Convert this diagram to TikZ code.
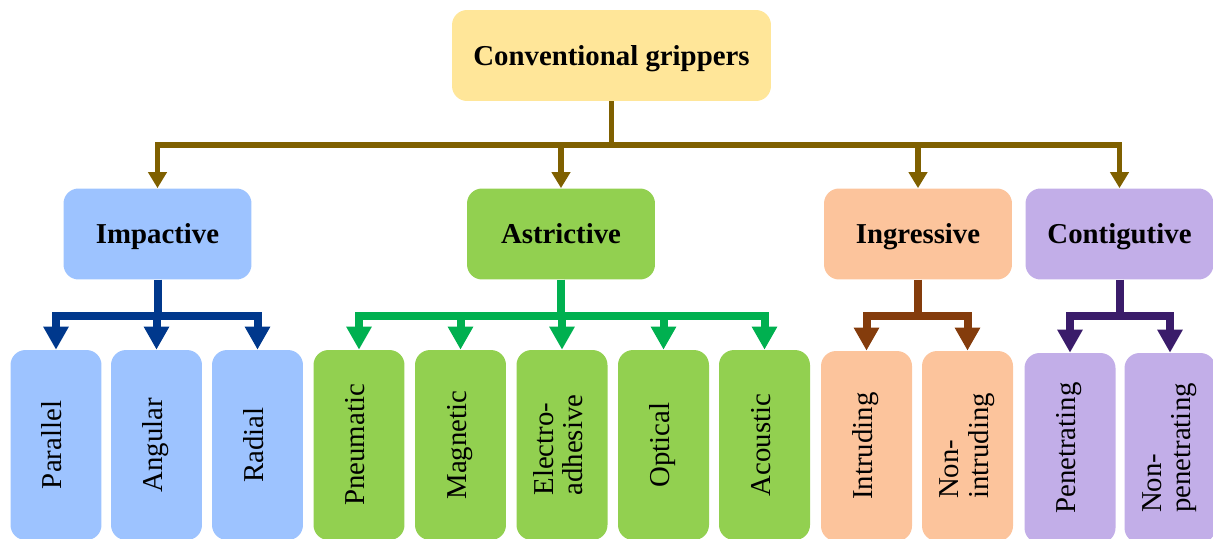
\documentclass[tikz,border=0pt]{standalone}
\usepackage{fontspec}
\setmainfont{Liberation Serif}
\usetikzlibrary{arrows.meta}
\definecolor{rootfill}{HTML}{FFE699}
\definecolor{impfill}{RGB}{157,195,255}
\definecolor{astfill}{HTML}{92D050}
\definecolor{ingfill}{RGB}{252,196,156}
\definecolor{contfill}{RGB}{194,174,232}
\definecolor{rootline}{HTML}{7F6000}
\definecolor{impline}{RGB}{0,56,140}
\definecolor{astline}{HTML}{00B050}
\definecolor{ingline}{HTML}{843C0C}
\definecolor{contline}{RGB}{58,28,106}
\newcommand{\vlabel}[1]{\rotatebox{90}{\begin{tabular}{@{}l@{}}#1\end{tabular}}}

\begin{document}
\begin{tikzpicture}
          [x=0.02cm,y=-0.02cm,box/.style={rectangle, rounded corners=0.3cm, text centered, inner sep=0pt},
           head/.style={box, minimum width=3.76cm, minimum height=1.82cm, text height=10.9pt, text depth=0pt, font=\fontsize{16.4}{18}\selectfont\bfseries},
           leaf/.style={box, minimum width=1.82cm, minimum height=3.8cm, font=\fontsize{16.4}{16.8}\selectfont}]
        \tikzset{
          link/.style={draw=rootline, line width=0.11cm, line join=miter, -{Triangle[width=0.36cm,length=0.32cm]}},
          fork/.style={line width=0.16cm, line join=miter, -{Triangle[width=0.48cm,length=0.46cm]}}
        }
          \useasboundingbox (0,0) rectangle (1213,538);
          \clip (0,0) rectangle (1213,538);
          % top level
          \node [head, fill=rootfill, minimum width=6.38cm] (root) at (611.5,55.5) {Conventional grippers};
          \node [head, fill=impfill] (imp) at (157.5,234) {Impactive};
          \node [head, fill=astfill] (ast) at (561,234) {Astrictive};
          \node [head, fill=ingfill] (ing) at (918,234) {Ingressive};
          \node [head, fill=contfill] (cont) at (1119.5,234) {Contigutive};
          \foreach \n in {imp,ast,ing,cont}
            \draw [link] (root.south) -- (root.south |- 0,145) -| (\n.north);
          % impactive
          \node [leaf, fill=impfill] (par) at (56,445) {\vlabel{Parallel}};
          \node [leaf, fill=impfill] (ang) at (156.5,445) {\vlabel{Angular}};
          \node [leaf, fill=impfill] (rad) at (257.5,445) {\vlabel{Radial}};
          \foreach \n in {par,ang,rad}
            \draw [fork, draw=impline] (imp.south) -- (imp.south |- 0,316) -| (\n.north);
          % astrictive
          \node [leaf, fill=astfill] (pne) at (359,445) {\vlabel{Pneumatic}};
          \node [leaf, fill=astfill] (mag) at (460.5,445) {\vlabel{Magnetic}};
          \node [leaf, fill=astfill] (ele) at (562,445) {\vlabel{Electro-\\adhesive}};
          \node [leaf, fill=astfill] (opt) at (663.5,445) {\vlabel{Optical}};
          \node [leaf, fill=astfill] (aco) at (764.5,445) {\vlabel{Acoustic}};
          \foreach \n in {pne,mag,ele,opt,aco}
            \draw [fork, draw=astline] (ast.south) -- (ast.south |- 0,316) -| (\n.north);
          % ingressive
          \node [leaf, fill=ingfill] (intr) at (866.5,446) {\vlabel{Intruding}};
          \node [leaf, fill=ingfill] (nint) at (967.5,446) {\vlabel{Non-\\intruding}};
          \foreach \n in {intr,nint}
            \draw [fork, draw=ingline] (ing.south) -- (ing.south |- 0,316) -| (\n.north);
          % contigutive
          \node [leaf, fill=contfill] (pen) at (1070,448) {\vlabel{Penetrating}};
          \node [leaf, fill=contfill] (npen) at (1170,448) {\vlabel{Non-\\penetrating}};
          \foreach \n in {pen,npen}
            \draw [fork, draw=contline] (cont.south) -- (cont.south |- 0,316) -| (\n.north);
        \end{tikzpicture}
\end{document}
